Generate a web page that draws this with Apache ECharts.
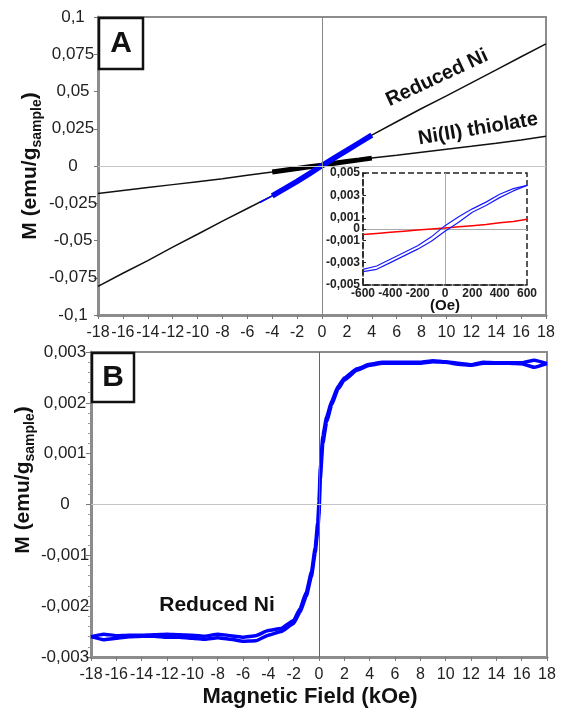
<!DOCTYPE html>
<html>
<head>
<meta charset="utf-8">
<script src="https://cdn.jsdelivr.net/npm/echarts@6/dist/echarts.min.js"></script>
<style>
  html, body { margin: 0; padding: 0; background: #fff; }
  #chart { width: 561px; height: 709px; }
</style>
</head>
<body>
<div id="chart"></div>
<script>
// ---- Panel A: magnetisation over the full field sweep (kOe) ----
const fieldA      = [-18, -16, -14, -12, -10, -8, -6, -4, -2, 0, 2, 4, 6, 8, 10, 12, 14, 16, 18];
const reducedNiA  = [-0.0808, -0.0720, -0.0635, -0.0545, -0.0458, -0.0370, -0.0285, -0.0200, -0.0103, 0.0003, 0.0105, 0.0207, 0.0297, 0.0386, 0.0471, 0.0558, 0.0645, 0.0733, 0.0820];
const thiolateA   = [-0.0185, -0.0165, -0.0145, -0.0125, -0.0105, -0.0085, -0.0062, -0.0040, -0.0017, 0.0006, 0.0030, 0.0053, 0.0072, 0.0092, 0.0112, 0.0132, 0.0153, 0.0175, 0.0200];

// low-field part of the sweep, drawn heavier
const fieldLow       = [-4, -3, -2, -1, 0, 1, 2, 3, 4];
const reducedNiLow   = [-0.0200, -0.0152, -0.0103, -0.0051, 0.0003, 0.0054, 0.0105, 0.0156, 0.0207];
const thiolateLow    = [-0.0040, -0.0028, -0.0017, -0.0005, 0.0006, 0.0018, 0.0030, 0.0041, 0.0053];
const fieldLead      = [-5, -4];
const reducedNiLead  = [-0.0245, -0.0200];

// ---- Inset: low-field loop (Oe) ----
const fieldInset      = [-600, -500, -400, -300, -200, -100, 0, 100, 200, 300, 400, 500, 600];
const insetDescending = [-0.0036, -0.0033, -0.0027, -0.0021, -0.0015, -0.0007, 0.0003, 0.0011, 0.0018, 0.0024, 0.0031, 0.0036, 0.0039];
const insetAscending  = [-0.0038, -0.0036, -0.0030, -0.0024, -0.0018, -0.0011, -0.0002, 0.0006, 0.0015, 0.0021, 0.0028, 0.0034, 0.0039];
const insetThiolate   = [-0.0005, -0.0004, -0.0003, -0.0002, -0.0001, 0.0000, 0.0001, 0.0002, 0.0003, 0.0004, 0.00055, 0.00066, 0.00088];
const insetTicksY     = [-0.005, -0.003, -0.001, 0, 0.001, 0.003, 0.005];

// ---- Panel B: Reduced Ni after subtraction ----
const fieldB = [-18, -17, -16, -15, -14, -13, -12, -11, -10, -9, -8, -7, -6, -5, -4, -3, -2, -1.5, -1, -0.6, -0.3, -0.1, 0, 0.1, 0.3, 0.6, 1, 1.5, 2, 3, 4, 5, 6, 7, 8, 9, 10, 11, 12, 13, 14, 15, 16, 17, 18];
const loopDescending = [-0.00260, -0.00255, -0.00258, -0.00257, -0.00257, -0.00256, -0.00255, -0.00256, -0.00257, -0.00259, -0.00255, -0.00258, -0.00261, -0.00258, -0.00248, -0.00244, -0.00228, -0.00205, -0.00172, -0.00133, -0.00085, -0.00035, 0.00005, 0.00070, 0.00135, 0.00172, 0.00203, 0.00232, 0.00249, 0.00267, 0.00276, 0.00280, 0.00280, 0.00280, 0.00280, 0.00283, 0.00281, 0.00278, 0.00275, 0.00280, 0.00279, 0.00279, 0.00279, 0.00284, 0.00277];
const loopAscending  = [-0.00260, -0.00266, -0.00263, -0.00260, -0.00259, -0.00259, -0.00261, -0.00261, -0.00263, -0.00265, -0.00262, -0.00265, -0.00269, -0.00268, -0.00257, -0.00250, -0.00234, -0.00212, -0.00180, -0.00142, -0.00095, -0.00050, -0.00020, 0.00050, 0.00120, 0.00162, 0.00196, 0.00227, 0.00245, 0.00264, 0.00274, 0.00278, 0.00278, 0.00278, 0.00278, 0.00281, 0.00280, 0.00276, 0.00274, 0.00278, 0.00278, 0.00278, 0.00277, 0.00270, 0.00277];

const FONT = '"Liberation Sans", Arial, sans-serif';
const pairs = (xs, ys) => xs.map((x, i) => [x, ys[i]]);
const comma = v => String(Number(v.toFixed(5))).replace('.', ',');

const frame = '#8c8c8c';
const zeroLines = (vColor, hColor) => ({
  silent: true, symbol: 'none', animation: false,
  label: { show: false },
  lineStyle: { type: 'solid', width: 1 },
  data: [
    { xAxis: 0, lineStyle: { color: vColor, type: 'solid', width: 1 } },
    { yAxis: 0, lineStyle: { color: hColor, type: 'solid', width: 1 } }
  ]
});

const line = (name, xi, yi, data, color, width, z, extra) => Object.assign({
  name, type: 'line', xAxisIndex: xi, yAxisIndex: yi, data: data,
  showSymbol: false, symbol: 'none', smooth: false, z: z, animation: false,
  lineStyle: { color: color, width: width }, emphasis: { disabled: true }
}, extra || {});

const mainAxisX = gi => ({
  type: 'value', gridIndex: gi, min: -18, max: 18, interval: 2,
  axisLine: { onZero: false, lineStyle: { color: frame, width: 3 } },
  axisTick: { show: true, length: 4, inside: false, lineStyle: { color: '#777' } },
  axisLabel: { fontSize: 16, color: '#222', fontFamily: FONT, margin: 10 },
  splitLine: { show: false }
});

// rotated "M (emu/g_sample)" title built from three text pieces
const measure = (() => {
  const ctx = document.createElement('canvas').getContext('2d');
  return (text, font) => { ctx.font = font; return ctx.measureText(text).width; };
})();
function yTitle(cx, cy) {
  const mainFont = 'bold 21px ' + FONT;
  const subFont = 'bold 14px ' + FONT;
  const w1 = measure('M (emu/g', mainFont);
  const w2 = measure('sample', subFont);
  const w3 = measure(')', mainFont);
  const x0 = -(w1 + w2 + w3) / 2;
  return {
    type: 'group', x: cx, y: cy, rotation: Math.PI / 2, z: 21,
    children: [
      { type: 'text', x: x0, y: 0, style: { text: 'M (emu/g', font: mainFont, fill: '#111', align: 'left', verticalAlign: 'middle' } },
      { type: 'text', x: x0 + w1, y: 7, style: { text: 'sample', font: subFont, fill: '#111', align: 'left', verticalAlign: 'middle' } },
      { type: 'text', x: x0 + w1 + w2, y: 0, style: { text: ')', font: mainFont, fill: '#111', align: 'left', verticalAlign: 'middle' } }
    ]
  };
}

const chart = echarts.init(document.getElementById('chart'), null, { renderer: 'canvas' });

chart.setOption({
  animation: false,
  backgroundColor: '#fff',
  grid: [
    { left: 98, top: 17, width: 448, height: 298, show: true, borderColor: frame, borderWidth: 2, backgroundColor: '#fff' },
    { left: 363, top: 173, width: 164, height: 112, show: true, borderColor: '#222', borderWidth: 1.5, borderType: 'dashed', backgroundColor: '#fff', z: 5 },
    { left: 91, top: 352, width: 456, height: 305, show: true, borderColor: frame, borderWidth: 2, backgroundColor: '#fff' }
  ],
  xAxis: [
    mainAxisX(0),
    {
      type: 'value', gridIndex: 1, min: -600, max: 600, interval: 200, z: 6,
      axisLine: { onZero: false, lineStyle: { color: '#222', width: 1.5, type: 'dashed' } },
      axisTick: { show: false },
      axisLabel: { fontSize: 12, fontWeight: 'bold', color: '#222', fontFamily: FONT, margin: 3 },
      splitLine: { show: false }
    },
    mainAxisX(2)
  ],
  yAxis: [
    {
      type: 'value', gridIndex: 0, min: -0.1, max: 0.1, interval: 0.025,
      axisLine: { onZero: false, lineStyle: { color: frame, width: 3 } },
      axisTick: { show: true, length: 4, lineStyle: { color: '#777' } },
      axisLabel: { fontSize: 17, color: '#222', fontFamily: FONT, margin: 25, align: 'center', formatter: comma },
      splitLine: { show: false }
    },
    {
      type: 'value', gridIndex: 1, min: -0.005, max: 0.005, z: 6,
      axisLine: { onZero: false, lineStyle: { color: '#222', width: 1.5, type: 'dashed' } },
      axisTick: { show: true, length: 3, inside: true, customValues: insetTicksY, lineStyle: { color: '#222' } },
      axisLabel: { fontSize: 12, fontWeight: 'bold', color: '#222', fontFamily: FONT, margin: 3, customValues: insetTicksY, formatter: comma },
      splitLine: { show: false }
    },
    {
      type: 'value', gridIndex: 2, min: -0.003, max: 0.003, interval: 0.001,
      axisLine: { onZero: false, lineStyle: { color: frame, width: 3 } },
      axisTick: { show: true, length: 5, lineStyle: { color: '#777' } },
      minorTick: { show: true, splitNumber: 5, length: 3, lineStyle: { color: '#999' } },
      axisLabel: { fontSize: 17, color: '#222', fontFamily: FONT, margin: 26, align: 'center', formatter: comma },
      splitLine: { show: false }
    }
  ],
  series: [
    // panel A
    line('Reduced Ni', 0, 0, pairs(fieldA, reducedNiA), '#111', 1.5, 2, { markLine: zeroLines('#888', '#c4c4c4') }),
    line('Ni(II) thiolate', 0, 0, pairs(fieldA, thiolateA), '#111', 1.5, 2),
    line('Ni(II) thiolate low field', 0, 0, pairs(fieldLow, thiolateLow), '#000', 5, 3),
    line('Reduced Ni lead-in', 0, 0, pairs(fieldLead, reducedNiLead), '#0000ff', 1.5, 3),
    line('Reduced Ni low field', 0, 0, pairs(fieldLow, reducedNiLow), '#0000ff', 5.5, 4),
    // inset
    line('Inset thiolate', 1, 1, pairs(fieldInset, insetThiolate), '#ff0000', 1.5, 7, { markLine: zeroLines('#aaa', '#aaa') }),
    line('Inset descending', 1, 1, pairs(fieldInset, insetDescending), '#1a1aff', 1.2, 7),
    line('Inset ascending', 1, 1, pairs(fieldInset, insetAscending), '#1a1aff', 1.2, 7),
    // panel B
    line('Loop descending', 2, 2, pairs(fieldB, loopDescending), '#0000ff', 3.5, 3, { smooth: 0.15, smoothMonotone: 'x', markLine: zeroLines('#666', '#c4c4c4') }),
    line('Loop ascending', 2, 2, pairs(fieldB, loopAscending), '#0000ff', 3.5, 3, { smooth: 0.15, smoothMonotone: 'x' })
  ],
  graphic: [
    // panel letters
    { type: 'rect', shape: { x: 99, y: 18, width: 44, height: 51 }, style: { fill: '#fff', stroke: '#111', lineWidth: 2.5 }, z: 20 },
    { type: 'text', x: 121, y: 44, z: 21, style: { text: 'A', font: 'bold 30px ' + FONT, fill: '#111', align: 'center', verticalAlign: 'middle' } },
    { type: 'rect', shape: { x: 92, y: 353, width: 42, height: 49 }, style: { fill: '#fff', stroke: '#111', lineWidth: 2.5 }, z: 20 },
    { type: 'text', x: 113, y: 378, z: 21, style: { text: 'B', font: 'bold 30px ' + FONT, fill: '#111', align: 'center', verticalAlign: 'middle' } },
    // curve labels
    { type: 'text', x: 437, y: 78, rotation: 25 * Math.PI / 180, z: 21,
      style: { text: 'Reduced Ni', font: 'bold 20px ' + FONT, fill: '#111', align: 'center', verticalAlign: 'middle' } },
    { type: 'text', x: 478, y: 129, rotation: 9.5 * Math.PI / 180, z: 21,
      style: { text: 'Ni(II) thiolate', font: 'bold 20px ' + FONT, fill: '#111', align: 'center', verticalAlign: 'middle' } },
    { type: 'text', x: 217, y: 605, z: 21,
      style: { text: 'Reduced Ni', font: 'bold 21px ' + FONT, fill: '#111', align: 'center', verticalAlign: 'middle' } },
    // inset axis unit
    { type: 'text', x: 445, y: 306, z: 21,
      style: { text: '(Oe)', font: 'bold 15px ' + FONT, fill: '#111', align: 'center', verticalAlign: 'middle' } },
    // axis titles
    yTitle(30, 166),
    yTitle(23, 480),
    { type: 'text', x: 310, y: 697, z: 21,
      style: { text: 'Magnetic Field (kOe)', font: 'bold 22px ' + FONT, fill: '#111', align: 'center', verticalAlign: 'middle' } }
  ]
});
</script>
</body>
</html>
